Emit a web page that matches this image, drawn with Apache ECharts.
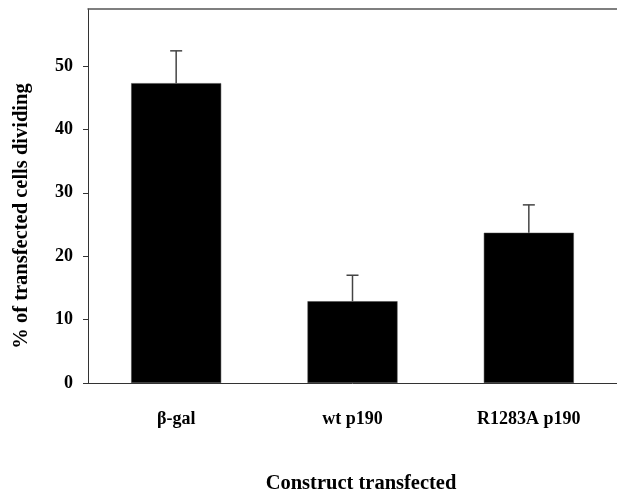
<!DOCTYPE html>
<html>
<head>
<meta charset="utf-8">
<script src="https://cdn.jsdelivr.net/npm/echarts@6/dist/echarts.min.js"></script>
<style>
  html, body { margin: 0; padding: 0; background: #fff; }
  #chart { width: 617px; height: 496px; }
</style>
</head>
<body>
<div id="chart"></div>
<script>
// Percentage of transfected cells dividing, per construct
const categories = ['β-gal', 'wt p190', 'R1283A p190'];
const means = [47.3, 12.9, 23.7];
const errors = [5.1, 4.1, 4.4];
const yTicks = [0, 10, 20, 30, 40, 50];

const serif = '"Liberation Serif", "DejaVu Serif", serif';

const chart = echarts.init(document.getElementById('chart'));

chart.setOption({
  animation: false,
  backgroundColor: '#fff',
  grid: { left: 88, top: 9, width: 533, bottom: 113 },
  xAxis: [
    {
      type: 'category',
      data: categories,
      axisLine: { lineStyle: { color: '#333', width: 1 } },
      axisTick: { show: false },
      axisLabel: {
        margin: 27,
        color: '#000',
        fontFamily: serif,
        fontWeight: 'bold',
        fontSize: 18
      }
    },
    {
      type: 'category',
      position: 'top',
      data: categories,
      axisLine: { lineStyle: { color: '#555', width: 1.5 } },
      axisTick: { show: false },
      axisLabel: { show: false }
    }
  ],
  yAxis: {
    type: 'value',
    min: 0,
    max: 59,
    interval: 10,
    axisLine: { show: true, lineStyle: { color: '#333', width: 1 } },
    axisTick: { show: true, length: 5, inside: false, customValues: yTicks, lineStyle: { color: '#333' } },
    splitLine: { show: false },
    axisLabel: {
      margin: 15,
      color: '#000',
      fontFamily: serif,
      fontWeight: 'bold',
      fontSize: 18,
      customValues: yTicks
    }
  },
  graphic: [
    {
      type: 'text',
      x: 22,
      y: 216,
      rotation: Math.PI / 2,
      style: {
        text: '% of transfected cells dividing',
        font: 'bold 20.5px ' + serif,
        fill: '#000',
        align: 'center',
        verticalAlign: 'middle'
      }
    },
    {
      type: 'text',
      x: 361,
      y: 484,
      style: {
        text: 'Construct transfected',
        font: 'bold 20.5px ' + serif,
        fill: '#000',
        align: 'center',
        verticalAlign: 'middle'
      }
    }
  ],
  series: [
    {
      type: 'bar',
      data: means,
      barWidth: 90,
      itemStyle: { color: '#000', borderColor: '#444', borderWidth: 0.5 }
    },
    {
      // upward error bars (mean + error) with a short cap
      type: 'custom',
      data: means.map((m, i) => [i, m, m + errors[i]]),
      z: 1,
      renderItem: function (params, api) {
        const base = api.coord([api.value(0), api.value(1)]);
        const top = api.coord([api.value(0), api.value(2)]);
        const half = 6;
        const style = { stroke: '#444', lineWidth: 1.5 };
        return {
          type: 'group',
          children: [
            { type: 'line', shape: { x1: base[0], y1: base[1], x2: top[0], y2: top[1] }, style },
            { type: 'line', shape: { x1: top[0] - half, y1: top[1], x2: top[0] + half, y2: top[1] }, style }
          ]
        };
      }
    }
  ]
});
</script>
</body>
</html>
